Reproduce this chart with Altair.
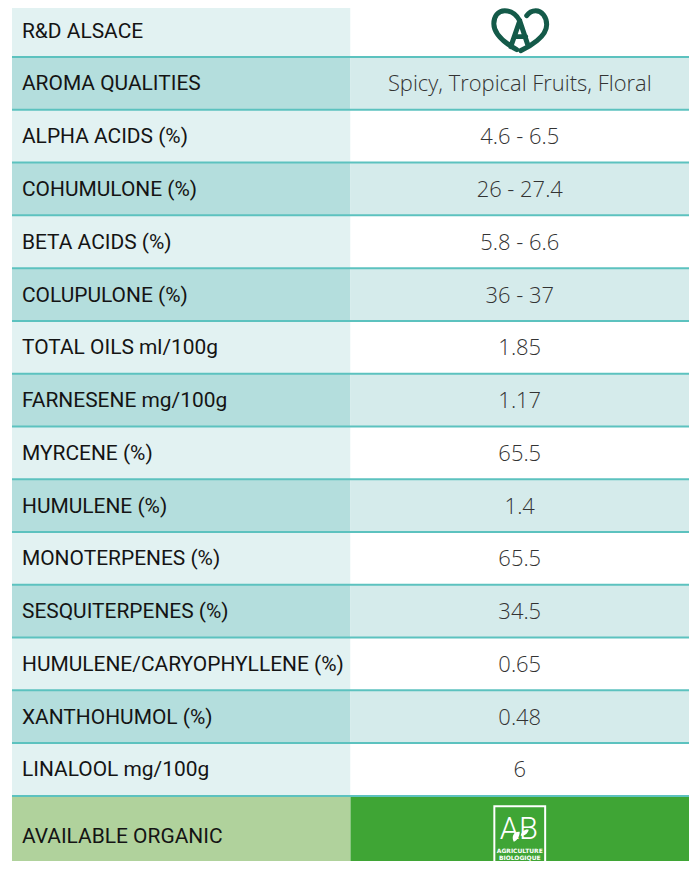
import altair as alt
import pandas as pd

# ---------------- data ----------------
labels = [
    "R&D ALSACE", "AROMA QUALITIES", "ALPHA ACIDS (%)", "COHUMULONE (%)",
    "BETA ACIDS (%)", "COLUPULONE (%)", "TOTAL OILS ml/100g", "FARNESENE mg/100g",
    "MYRCENE (%)", "HUMULENE (%)", "MONOTERPENES (%)", "SESQUITERPENES (%)",
    "HUMULENE/CARYOPHYLLENE (%)", "XANTHOHUMOL (%)", "LINALOOL mg/100g",
    "AVAILABLE ORGANIC",
]
values = [
    "", "Spicy, Tropical Fruits, Floral", "4.6 - 6.5", "26 - 27.4",
    "5.8 - 6.6", "36 - 37", "1.85", "1.17",
    "65.5", "1.4", "65.5", "34.5",
    "0.65", "0.48", "6", "",
]

# ---------------- layout ----------------
ROW_PX = 52.93
LAST_ROW_PX = 80
TOP_PX = 3
CHART_W, CHART_H = 683, 853
Y0 = (8 - TOP_PX) / ROW_PX
Y1 = Y0 + CHART_H / ROW_PX

n = len(labels)
tops = [float(i) for i in range(n)]
bottoms = [i + 1.0 for i in range(n - 1)] + [n - 1 + LAST_ROW_PX / ROW_PX]
mids = [(t + b) / 2 for t, b in zip(tops, bottoms)]

cells = []
for i in range(n):
    if i == n - 1:
        kind = "organic"
    elif i % 2 == 1:
        kind = "dark"
    else:
        kind = "light"
    for col in ["name", "value"]:
        cells.append({"col": col, "top": tops[i], "bottom": bottoms[i],
                      "shade": f"{col}-{kind}"})
cells_df = pd.DataFrame(cells)

label_df = pd.DataFrame({"col": "name", "mid": mids, "text": labels})
value_df = pd.DataFrame({"col": "value", "mid": mids, "text": values})
sep_df = pd.DataFrame({"y": [float(i) for i in range(1, n)]})
alsace_df = pd.DataFrame({"col": ["value"], "mid": [mids[0]]})
organic_df = pd.DataFrame({"col": ["value"], "mid": [mids[-1]]})

shade_domain = ["name-light", "name-dark", "value-light", "value-dark",
                "name-organic", "value-organic"]
shade_range = ["#e2f2f2", "#b4dedd", "#ffffff", "#d5ebeb", "#b0d29c", "#3fa535"]

xscale = alt.Scale(domain=["name", "value"], range=[4, CHART_W],
                   paddingInner=0, paddingOuter=0)
yscale = alt.Scale(domain=[Y0, Y1], reverse=True, nice=False, zero=False)


def unit_path(cmds, unit):
    out = []
    for c in cmds:
        if isinstance(c, str):
            out.append(c)
        else:
            out.append(f"{c[0] / unit:.3f},{c[1] / unit:.3f}")
    return " ".join(out)


# Alsace heart logo (pixel offsets around its centre, width 54px)
AL = 27.0
alsace_path = unit_path([
    "M", (0, -10), "C", (-4, -17), (-10, -20), (-15, -20),
    "C", (-22, -20), (-26, -14), (-26, -7),
    "C", (-26, 5), (-12, 14), (-3, 19),
    "M", (0, -10), "L", (-9, 16),
    "M", (0, -10), "L", (8, 14),
    "M", (-5, 6), "L", (6, 6),
    "M", (1, 20), "C", (10, 16), (27, 6), (27, -6),
    "C", (27, -14), (22, -20), (16, -20),
    "C", (12, -20), (9, -18), (7, -15),
], AL)

# AB logo frame (51 x 59 px)
AB = 29.5
ab_frame = unit_path(["M", (-25.5, -29.5), "L", (25.5, -29.5), "L", (25.5, 29.5),
                      "L", (-25.5, 29.5), "Z"], AB)
leaf = unit_path(["M", (-6, 6), "C", (-9, 0), (-5, -5), (0, -4),
                  "C", (0, 1), (-3, 5), (-6, 6), "Z",
                  "M", (1, 0), "C", (2, -5), (6, -7), (9, -6),
                  "C", (8, -2), (5, 0), (1, 0), "Z"], 9)


def at_value(chart):
    return chart.encode(
        x=alt.X("col:N", scale=xscale, axis=None, bandPosition=0.5),
        y=alt.Y("mid:Q", scale=yscale, axis=None),
    )


cells_layer = alt.Chart(cells_df).mark_rect(strokeWidth=0).encode(
    x=alt.X("col:N", scale=xscale, axis=None),
    y=alt.Y("top:Q", scale=yscale, axis=None),
    y2="bottom:Q",
    color=alt.Color("shade:N", scale=alt.Scale(domain=shade_domain, range=shade_range),
                    legend=None),
)

sep_layer = alt.Chart(sep_df).mark_rule(color="#5cc2bf", strokeWidth=2).encode(
    y=alt.Y("y:Q", scale=yscale, axis=None),
    x=alt.value(4),
    x2=alt.value(CHART_W),
)

label_layer = alt.Chart(label_df).mark_text(
    align="left", baseline="middle", dx=10, dy=1, font="Roboto", fontSize=21,
    color="#141414",
).encode(
    x=alt.X("col:N", scale=xscale, axis=None, bandPosition=0),
    y=alt.Y("mid:Q", scale=yscale, axis=None),
    text="text:N",
)

value_layer = at_value(alt.Chart(value_df).mark_text(
    align="center", baseline="middle", dy=1, font="Open Sans", fontSize=22,
    fontWeight=300, color="#333333",
)).encode(text="text:N")

alsace_layer = at_value(alt.Chart(alsace_df).mark_point(
    shape=alsace_path, size=(2 * AL) ** 2, filled=False, stroke="#145a49",
    strokeWidth=5, strokeCap="round", opacity=1,
))

ab_frame_layer = at_value(alt.Chart(organic_df).mark_point(
    shape=ab_frame, size=(2 * AB) ** 2, filled=False, stroke="#ffffff",
    strokeWidth=2, opacity=1, dy=-1.5,
))

ab_text = at_value(alt.Chart(organic_df).mark_text(
    text="AB", align="center", baseline="middle", dy=-6, dx=-1,
    font="Roboto", fontSize=31, fontWeight=300, color="#ffffff",
))

ab_leaf_layer = at_value(alt.Chart(organic_df).mark_point(
    shape=leaf, size=324, filled=True, fill="#ffffff", opacity=1,
    dx=16, dy=-23,
))

ab_small1 = at_value(alt.Chart(organic_df).mark_text(
    text="AGRICULTURE", align="center", baseline="middle", dy=15,
    font="DejaVu Sans", fontSize=6, fontWeight="bold", color="#ffffff",
))
ab_small2 = at_value(alt.Chart(organic_df).mark_text(
    text="BIOLOGIQUE", align="center", baseline="middle", dy=22,
    font="DejaVu Sans", fontSize=6, fontWeight="bold", color="#ffffff",
))

chart = alt.layer(
    cells_layer, sep_layer, label_layer, value_layer, alsace_layer,
    ab_frame_layer, ab_text, ab_leaf_layer, ab_small1, ab_small2,
).properties(
    width=CHART_W, height=CHART_H, padding=0,
    autosize=alt.AutoSizeParams(type="none"),
    background="#ffffff",
).configure_view(stroke=None)

chart.save("out.html", embed_options={"renderer": "svg", "actions": False})
